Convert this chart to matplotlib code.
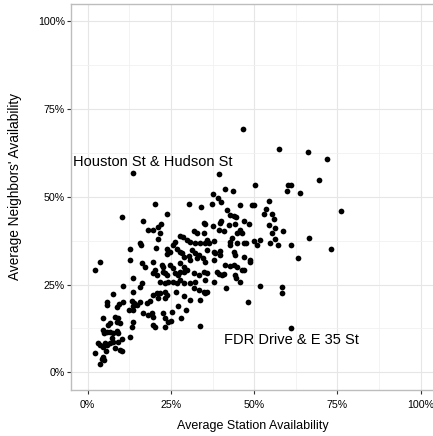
import matplotlib
matplotlib.use("Agg")
import matplotlib.pyplot as plt
from matplotlib.ticker import FixedLocator

plt.rcParams['font.family'] = ['Liberation Sans', 'DejaVu Sans']

# Average station availability (%)
station_avail = [
    46.5, 57.3, 66.3, 71.9, 39.5, 13.5, 69.6, 76.2, 73.2, 61.1,
    60.3, 61.1, 59.9, 63.8, 50.3, 54.5, 53.5, 52.9, 55.3, 55.8,
    54.3, 56.1, 55.3, 58.6, 51.8, 50.8, 54.8, 56.3, 57.1, 61.1,
    66.6, 63.2, 51.8, 58.5, 58.3, 48.0,
    41.3, 43.6, 37.6, 39.0, 40.0, 37.3, 34.0, 45.6, 49.3, 50.0,
    41.8, 42.8, 43.8, 44.6, 40.0, 39.6, 34.8, 35.3, 37.6, 39.3,
    40.8, 44.3, 42.3, 46.8, 48.3, 35.0, 32.9, 44.8, 45.8, 46.3,
    43.3, 35.8, 35.3, 36.3, 37.8, 42.8, 42.6, 44.8, 46.8, 47.6,
    49.8, 33.8, 35.8, 37.8, 38.3, 39.8, 39.8, 43.8, 44.3, 46.8,
    48.8, 48.6, 34.6, 37.8, 35.3, 41.3, 42.6, 43.8, 44.8, 46.3,
    46.8, 34.8, 35.8, 35.3, 38.8, 39.3, 40.3, 40.8, 44.3, 44.6,
    45.8, 37.8, 41.6,
    33.8, 33.6, 34.8, 35.8, 35.3, 33.3,
    20.2, 30.3, 23.9, 16.7, 22.0, 21.2, 18.2, 19.7, 21.7, 31.8,
    27.8, 28.6, 29.8, 30.8, 32.3, 15.7, 15.9, 21.2, 26.3, 25.7,
    12.7, 20.5, 23.9, 24.8, 23.8, 26.8, 27.8, 28.3, 28.8, 30.3,
    30.8, 31.3, 32.3, 33.3, 32.8, 19.7, 16.2, 17.2, 12.7, 22.3,
    22.7, 24.8, 25.7, 27.8, 28.8, 29.8, 20.2, 19.7, 20.8, 22.7,
    23.2, 23.9, 26.3, 27.2, 27.8, 28.8, 31.8, 33.3, 13.7,
    25.7, 26.8, 27.8, 28.8, 30.8, 32.3, 31.8,
    26.6, 29.0, 30.8, 27.2, 25.4, 29.6, 28.1, 25.1,
    10.5, 16.2, 15.7, 21.7, 23.2, 24.2, 7.5, 13.7, 19.7, 20.8,
    21.7, 23.2, 23.8, 5.7, 5.9, 10.7, 9.5, 8.9, 13.2, 13.9,
    13.5, 14.7, 15.7, 12.5, 13.7, 17.7, 18.7, 21.2, 23.2, 16.7,
    18.2, 19.2, 19.7, 22.6, 23.2, 24.2, 23.2, 19.7, 20.2, 4.7,
    8.2, 8.7, 9.7, 9.2, 6.2, 6.7, 4.5, 4.9, 5.7, 6.7,
    7.7, 8.7, 9.2, 13.2, 13.5, 12.7, 10.2, 9.2, 7.2, 7.7,
    6.7, 3.2, 3.7, 4.7, 5.2, 5.7, 2.2, 5.5, 8.2, 9.7,
    10.2, 4.7, 4.9, 4.2, 3.7,
    2.2, 3.7, 10.3,
]

# Average neighbors' availability (%)
neighbor_avail = [
    69.3, 63.5, 62.7, 60.8, 56.4, 56.8, 54.8, 46.0, 35.1, 12.5,
    53.4, 53.4, 51.7, 51.0, 53.4, 48.9, 46.4, 45.2, 45.0, 43.6,
    42.0, 41.0, 39.8, 40.3, 37.7, 36.3, 36.9, 37.9, 36.3, 36.3,
    38.3, 32.5, 24.7, 24.4, 22.7, 20.1,
    52.1, 51.7, 50.8, 49.6, 48.6, 48.1, 47.0, 47.7, 47.7, 47.7,
    46.2, 44.8, 44.5, 44.2, 43.2, 42.6, 42.6, 42.4, 41.7, 40.5,
    40.3, 42.3, 42.0, 43.2, 42.3, 39.8, 39.7, 39.8, 40.5, 39.8,
    38.2, 37.7, 36.8, 36.8, 37.5, 37.2, 36.3, 36.9, 36.9, 36.9,
    37.5, 36.8, 34.8, 34.4, 34.1, 34.6, 33.4, 34.4, 33.4, 32.9,
    32.0, 31.5, 32.5, 32.0, 31.5, 30.6, 30.3, 30.6, 29.9, 29.1,
    29.3, 28.7, 28.2, 26.3, 28.7, 28.0, 27.7, 28.0, 27.7, 26.8,
    25.8, 25.8, 23.9,
    20.6, 13.2, 23.0, 23.0, 22.5, 23.4,
    48.1, 48.1, 45.1, 43.2, 42.3, 41.5, 40.5, 40.5, 39.8, 40.3,
    38.8, 38.5, 37.7, 37.2, 36.9, 36.9, 36.3, 37.9, 37.2, 36.3,
    35.0, 35.3, 35.0, 34.4, 33.7, 35.0, 34.4, 33.9, 32.9, 33.1,
    32.0, 34.8, 34.1, 33.4, 32.5, 31.5, 31.2, 30.1, 32.0, 30.6,
    30.1, 30.6, 29.6, 31.1, 30.1, 29.1, 29.1, 28.2, 27.7, 28.7,
    28.2, 27.7, 28.2, 27.7, 28.7, 28.7, 28.2, 27.7, 26.8,
    25.8, 25.4, 26.3, 25.4, 25.4, 25.8, 23.9,
    22.9, 21.7, 20.6, 18.9, 17.2, 17.7, 15.5, 14.6,
    24.6, 25.4, 24.4, 25.8, 25.4, 25.8, 22.3, 23.0, 22.0, 22.7,
    22.5, 23.0, 22.0, 20.1, 19.2, 20.1, 19.5, 18.7, 20.4, 19.7,
    18.9, 19.2, 20.1, 17.9, 17.9, 19.7, 20.4, 21.1, 21.1, 16.8,
    16.3, 16.8, 15.7, 16.8, 15.4, 14.4, 13.0, 13.5, 13.0, 15.4,
    15.8, 14.4, 14.0, 15.4, 13.5, 14.0, 12.1, 11.1, 11.6, 11.6,
    11.1, 11.9, 11.3, 13.0, 14.4, 10.1, 9.4, 8.7, 9.7, 8.7,
    8.3, 8.3, 7.8, 7.3, 8.3, 7.8, 5.4, 6.2, 6.8, 6.4,
    6.2, 4.4, 3.5, 3.7, 2.4,
    29.3, 31.4, 44.2,
]

labels = ["Houston St & Hudson St", "FDR Drive & E 35 St"]
label_x = [19.6, 61.3]
label_y = [59.9, 9.1]

major_ticks = [0, 25, 50, 75, 100]
tick_labels = ["0%", "25%", "50%", "75%", "100%"]
minor_ticks = [12.5, 37.5, 62.5, 87.5]

W, H = 433, 436
fig = plt.figure(figsize=(W / 100, H / 100), dpi=100)
fig.patch.set_facecolor("white")
ax = fig.add_axes([71.1 / W, (H - 389.9) / H, 366.2 / W, 386.1 / H])
ax.set_facecolor("white")

ax.set_xlim(-5, 105)
ax.set_ylim(-5, 105)

ax.xaxis.set_major_locator(FixedLocator(major_ticks))
ax.yaxis.set_major_locator(FixedLocator(major_ticks))
ax.xaxis.set_minor_locator(FixedLocator(minor_ticks))
ax.yaxis.set_minor_locator(FixedLocator(minor_ticks))
ax.set_xticklabels(tick_labels)
ax.set_yticklabels(tick_labels)

ax.grid(True, which="major", color="#e6e6e6", linewidth=0.8, zorder=0)
ax.grid(True, which="minor", color="#f1f1f1", linewidth=0.6, zorder=0)
ax.set_axisbelow(True)

ax.tick_params(which="major", length=3, width=0.8, color="#333333",
               labelsize=7.7, labelcolor="black")
ax.tick_params(axis="x", which="major", pad=4)
ax.tick_params(axis="y", which="major", pad=1.5)
ax.tick_params(which="minor", length=0)

for side in ["top", "left", "bottom", "right"]:
    ax.spines[side].set_color("#bdbdbd")
    ax.spines[side].set_linewidth(1.0)

ax.scatter(station_avail, neighbor_avail, s=17, color="black",
           linewidths=0, zorder=3)

for t, lx, ly in zip(labels, label_x, label_y):
    ax.text(lx, ly, t, ha="center", va="center", fontsize=10.5,
            color="black", zorder=4)

fig.text(253 / W, 1 - 426 / H, "Average Station Availability",
         ha="center", va="center", fontsize=9, color="black")
fig.text(15 / W, 1 - 186 / H, "Average Neighbors' Availability",
         ha="center", va="center", rotation=90, fontsize=9.8, color="black")

fig.savefig("out.png", dpi=100, facecolor="white")
